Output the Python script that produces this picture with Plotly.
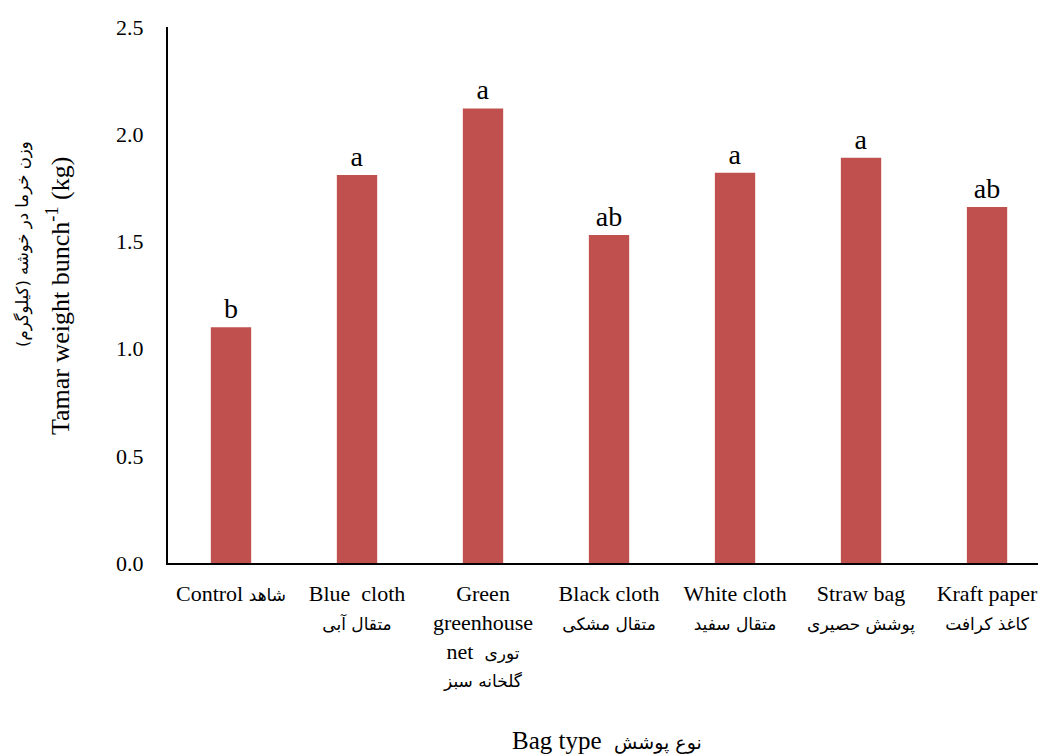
import plotly.graph_objects as go

FA = 'font-family:DejaVu Sans;font-size:17px'

def fa(s, size=17):
    return f'<span style="font-family:DejaVu Sans;font-size:{size}px">\u200f{s}\u200f</span>'

categories = ["Control", "Blue cloth", "Green greenhouse net", "Black cloth",
              "White cloth", "Straw bag", "Kraft paper"]
tick_labels = [
    "Control " + fa("شاهد"),
    "Blue  cloth<br>" + fa("متقال آبی"),
    "Green<br>greenhouse<br>net  " + fa("توری") + "<br>" + fa("گلخانه سبز"),
    "Black cloth<br>" + fa("متقال مشکی"),
    "White cloth<br>" + fa("متقال سفید"),
    "Straw bag<br>" + fa("پوشش حصیری"),
    "Kraft paper<br>" + fa("کاغذ کرافت"),
]
values = [1.10, 1.81, 2.12, 1.53, 1.82, 1.89, 1.66]
letters = ["b", "a", "a", "ab", "a", "a", "ab"]

y_title_en = "Tamar weight bunch<sup>-1</sup> (kg)"
y_title_fa = "وزن خرما در خوشه (کیلوگرم)"
x_title_en = "Bag type"
x_title_fa = "نوع پوشش"

fig = go.Figure()
fig.add_trace(go.Bar(
    x=categories, y=values, text=letters, textposition="outside",
    textfont=dict(family="Liberation Serif", size=28, color="black"),
    marker=dict(color="#C0504D", line=dict(width=0)),
    width=0.32, cliponaxis=False, constraintext="none",
))

# page body adds an 8px margin, so the figure is sized 8px smaller
fig.update_layout(
    width=1038, height=747,
    margin=dict(l=160, r=0, t=19, b=192),
    plot_bgcolor="white", paper_bgcolor="white",
    font=dict(family="Liberation Serif", size=22, color="black"),
    showlegend=False,
    xaxis=dict(
        range=[-0.5, 6.468], tickmode="array", tickvals=categories,
        ticktext=tick_labels, showline=True, linecolor="black", linewidth=2,
        ticks="", showgrid=False, zeroline=False, tickangle=0,
        tickfont=dict(family="Liberation Serif", size=22), automargin=False,
        ticklabelstandoff=10,
    ),
    yaxis=dict(
        range=[0, 2.5], dtick=0.5, tickformat=".1f", showline=True,
        linecolor="black", linewidth=2, ticks="", showgrid=False,
        zeroline=False, tickfont=dict(family="Liberation Serif", size=22),
        automargin=False, ticklabelstandoff=18,
    ),
)

PW, PH, L, T = 878, 536, 168, 27

# axis titles
fig.add_annotation(
    text=x_title_en + "  " + fa(x_title_fa, 19),
    xref="paper", yref="paper", x=0.5, y=-(740 - 563) / PH, yanchor="middle",
    showarrow=False, font=dict(family="Liberation Serif", size=25),
)
fig.add_annotation(
    text=y_title_en, textangle=-90, xref="paper", yref="paper",
    x=(58 - L) / PW, y=(563 - 296) / PH, xanchor="center", yanchor="middle",
    showarrow=False, font=dict(family="Liberation Serif", size=26),
)
fig.add_annotation(
    text="\u200f" + y_title_fa + "\u200f", textangle=-90, xref="paper", yref="paper",
    x=(23 - L) / PW, y=(563 - 244) / PH, xanchor="center", yanchor="middle",
    showarrow=False, font=dict(family="DejaVu Sans", size=16.5),
)

fig.write_html("out.html")
